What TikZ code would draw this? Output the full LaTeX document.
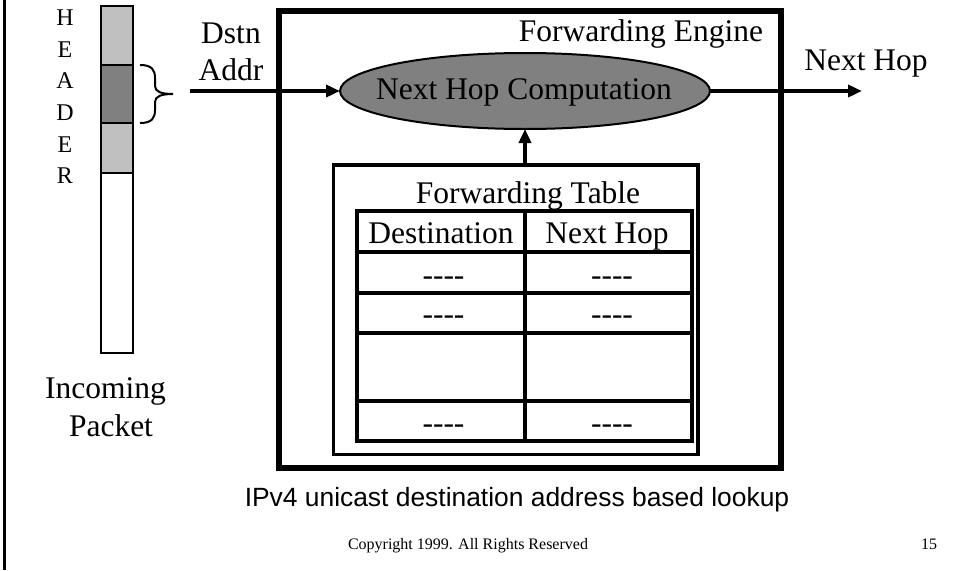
\documentclass[tikz,border=0pt]{standalone}
\usepackage{fontspec}
\setmainfont{Liberation Serif}
\newfontfamily\capfont{Liberation Sans}
\usetikzlibrary{arrows.meta,shapes.geometric}
\definecolor{lightg}{HTML}{C0C0C0}
\definecolor{darkg}{HTML}{808080}
\begin{document}
\begin{tikzpicture}[x=1pt,y=-1pt,
  big/.style={font=\fontsize{31.5}{36}\selectfont, inner sep=0pt, anchor=base},
  hdr/.style={font=\fontsize{24}{28}\selectfont, inner sep=0pt, anchor=base},
  captxt/.style={font=\capfont\fontsize{26.4}{30}\selectfont, inner sep=0pt, anchor=base},
  smalltxt/.style={font=\fontsize{16}{19}\selectfont, inner sep=0pt, anchor=base},
  arr/.style={line width=4pt, -{Triangle[length=14pt,width=12pt]}},
  pk/.style={line width=2.7pt},
  tline/.style={line width=4pt}]
\useasboundingbox (0,0) rectangle (958,570);
% left border
\draw[line width=3pt] (4.7,0) -- (4.7,570);
% HEADER letters
\foreach \l/\y [count=\i] in {H/25,E/57,A/88,D/120,E/152,R/183}
  \node[hdr] (h\i) at (65,\y) {\l};
% packet
\draw[pk, fill=lightg] (101,6) rectangle (133,65);
\draw[pk, fill=darkg] (101,65) rectangle (133,123);
\draw[pk, fill=lightg] (101,123) rectangle (133,173);
\draw[pk] (101,173) rectangle (133,353);
% brace
\draw[line width=2pt] (140,65) .. controls (152,65) and (155,70) .. (155,78) -- (155,86)
  .. controls (155,92) and (162,94) .. (173,94);
\draw[line width=2pt] (140,123) .. controls (152,123) and (155,118) .. (155,110) -- (155,102)
  .. controls (155,96) and (162,94) .. (173,94);
\node[big] (inc) at (105.5,398) {Incoming};
\node[big] (pkt) at (111,436) {Packet};
% Dstn Addr
\node[big] (dstn) at (231,43) {Dstn};
\node[big] (addr) at (231,80) {Addr};
% forwarding engine box
\draw[line width=6.5pt] (279,11) rectangle (781,468);
\node[big] (fe) at (641,41) {Forwarding Engine};
% ellipse
\node[ellipse, draw, line width=2pt, fill=darkg, minimum width=370pt, minimum height=76pt,
  inner sep=0pt, outer sep=0pt] (nhc) at (525,91) {};
\node[big] (nhct) at (524,99) {Next Hop Computation};
\coordinate (din) at (190,91);
\coordinate (dout) at (862,91);
\draw[arr] (din) -- (nhc.west);
\draw[arr] (nhc.east) -- (dout);
\node[big] (nh) at (866,70) {Next Hop};
% forwarding table box
\node[draw, line width=3.3pt, minimum width=364.5pt, minimum height=289.5pt, inner sep=0pt,
  outer sep=0pt, anchor=north west] (ftbox) at (333.5,165) {};
\draw[arr] (nhc.south |- ftbox.north) -- (nhc.south);
\node[big] (ftl) at (528,203) {Forwarding Table};
% table
\draw[tline] (357,211) rectangle (692,441);
\draw[tline] (524.5,211) -- (524.5,441);
\foreach \yy in {252,293,333,400.5} \draw[tline] (357,\yy) -- (692,\yy);
\node[big] (c1) at (441,243) {Destination};
\node[big] (c2) at (607,243) {Next Hop};
\foreach \yy/\n in {285/a,324/b,433/c} {
  \node[big] (l\n) at (443.5,\yy) {-{}-{}-{}-};
  \node[big] (r\n) at (612,\yy) {-{}-{}-{}-};
}
% caption
\node[captxt] (capt) at (517,506) {IPv4 unicast destination address based lookup};
\node[smalltxt] (copy) at (468,549) {Copyright 1999. All Rights Reserved};
\node[smalltxt] (pg) at (929,549) {15};
\end{tikzpicture}
\end{document}
